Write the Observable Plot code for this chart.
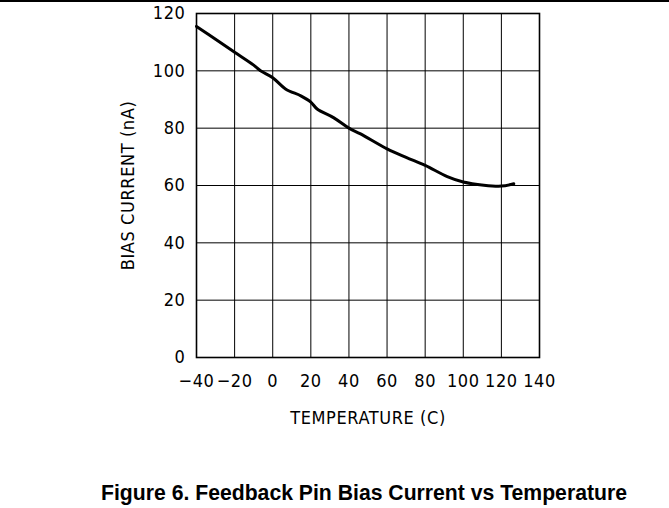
<!DOCTYPE html>
<html>
<head>
<meta charset="utf-8">
<script src="https://cdn.jsdelivr.net/npm/d3@7"></script>
<script src="https://cdn.jsdelivr.net/npm/@observablehq/plot@0.6"></script>
<style>
  html, body { margin: 0; padding: 0; background: #fff; }
  #wrap { position: relative; width: 669px; height: 508px; overflow: hidden; }
  #rule { position: absolute; left: 0; top: 0; width: 669px; height: 2px; background: #000; }
  #chart svg { display: block; }
  #caption {
    margin-top: 41px;
    font-family: "Liberation Sans", Arial, sans-serif;
    font-weight: bold;
    font-size: 21.2px;
    line-height: 24px;
    text-align: center;
    padding-left: 59px;
    color: #000;
    white-space: nowrap;
  }
</style>
</head>
<body>
<div id="wrap">
  <div id="chart"></div>
  <div id="caption">Figure 6. Feedback Pin Bias Current vs Temperature</div>
  <div id="rule"></div>
</div>
<script>
// Data
const temperature = [-40, -30, -20, -10, -6.4, 0, 6.7, 15, 20, 23.3, 32.1, 40, 46.1, 60, 70, 80, 91.6, 100, 110.8, 120, 126.5];
const biasCurrent = [115.5, 111, 106.5, 102.0, 100, 97.6, 93.7, 91.2, 89.1, 86.7, 83.6, 80, 78, 72.8, 69.8, 67, 63.1, 61.2, 60.1, 59.8, 60.6];
const xTicks = [-40, -20, 0, 20, 40, 60, 80, 100, 120, 140];
const yTicks = [0, 20, 40, 60, 80, 100, 120];
const xLabel = "TEMPERATURE (C)";
const yLabel = "BIAS CURRENT (nA)";

const data = temperature.map((t, i) => ({t, v: biasCurrent[i]}));
const fmt = d => String(d).replace("-", "\u2212");
const font = "DejaVu Sans Condensed, DejaVu Sans, sans-serif";

const plot = Plot.plot({
  width: 669,
  height: 440,
  marginLeft: 196,
  marginRight: 130,
  marginTop: 13,
  marginBottom: 83,
  style: {fontFamily: font, fontSize: "18px", color: "#000", background: "#fff"},
  x: {domain: [-40, 140]},
  y: {domain: [0, 120]},
  marks: [
    Plot.gridX(xTicks, {stroke: "#000", strokeOpacity: 1, strokeWidth: 1}),
    Plot.gridY(yTicks, {stroke: "#000", strokeOpacity: 1, strokeWidth: 1}),
    Plot.frame({stroke: "#000", strokeWidth: 1.6}),
    Plot.axisX(xTicks, {tickSize: 0, tickPadding: 17, tickFormat: fmt, label: null, fontSize: 18, fill: "#000"}),
    Plot.axisY(yTicks, {tickSize: 0, tickPadding: 11, tickFormat: fmt, label: null, fontSize: 18, fill: "#000"}),
    Plot.line(data, {x: "t", y: "v", stroke: "#000", strokeWidth: 3, curve: "catmull-rom"}),
    Plot.text([xLabel], {text: d => d, frameAnchor: "bottom", lineAnchor: "middle", dy: 61, fontSize: 18, fill: "#000"}),
    Plot.text([yLabel], {text: d => d, frameAnchor: "left", textAnchor: "middle", lineAnchor: "middle", dx: -68, rotate: -90, fontSize: 18, fill: "#000"})
  ]
});
// letter spacing to mimic the stroke font of the original
d3.select(plot).selectAll("text").style("letter-spacing", "0.6px");
document.getElementById("chart").appendChild(plot);
</script>
</body>
</html>
